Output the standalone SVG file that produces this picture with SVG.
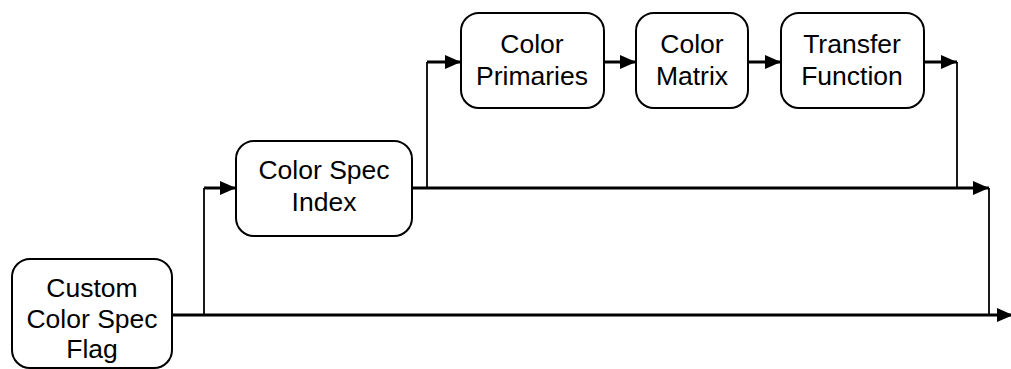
<svg xmlns="http://www.w3.org/2000/svg" width="1011" height="369" viewBox="0 0 1011 369">
<style>
.box{fill:#fff;stroke:#000;stroke-width:2}
.lbl{font-family:"Liberation Sans",Arial,sans-serif;font-size:26.5px;fill:#000;text-anchor:middle}
.thick{fill:none;stroke:#000;stroke-width:3}
.thin{fill:none;stroke:#000;stroke-width:1.8}
</style>
<defs>
<marker id="ah" markerWidth="17" markerHeight="15" refX="16" refY="7.5" orient="auto" markerUnits="userSpaceOnUse" overflow="visible">
<path d="M0,0.5 L16,7.5 L0,14.5 Z" fill="#000"/>
</marker>
</defs>
<rect width="1011" height="369" fill="#fff"/>
<g id="connectors">
<path class="thick" d="M172,315 H1013" marker-end="url(#ah)"/>
<path class="thin" d="M204,315 V188"/>
<path class="thick" d="M204,188 H236" marker-end="url(#ah)"/>
<path class="thick" d="M412,188 H989" marker-end="url(#ah)"/>
<path class="thin" d="M989,188 V315"/>
<path class="thin" d="M427,188 V62"/>
<path class="thick" d="M427,62 H461" marker-end="url(#ah)"/>
<path class="thick" d="M604,62 H636" marker-end="url(#ah)"/>
<path class="thick" d="M748,62 H781" marker-end="url(#ah)"/>
<path class="thick" d="M924,62 H957" marker-end="url(#ah)"/>
<path class="thin" d="M957,62 V188"/>
</g>
<g id="custom">
<rect class="box" x="12" y="259" width="160" height="109" rx="18"/>
<text class="lbl" x="92" y="297">Custom</text>
<text class="lbl" x="92" y="328">Color Spec</text>
<text class="lbl" x="92" y="358">Flag</text>
</g>
<g id="index">
<rect class="box" x="236" y="141" width="176" height="95" rx="18"/>
<text class="lbl" x="324" y="179">Color Spec</text>
<text class="lbl" x="324" y="211">Index</text>
</g>
<g id="primaries">
<rect class="box" x="461" y="13" width="143" height="95" rx="18"/>
<text class="lbl" x="532" y="53">Color</text>
<text class="lbl" x="532" y="85">Primaries</text>
</g>
<g id="matrix">
<rect class="box" x="636" y="13" width="112" height="95" rx="18"/>
<text class="lbl" x="692" y="53">Color</text>
<text class="lbl" x="692" y="85">Matrix</text>
</g>
<g id="transfer">
<rect class="box" x="781" y="13" width="143" height="95" rx="18"/>
<text class="lbl" x="852" y="53">Transfer</text>
<text class="lbl" x="852" y="85">Function</text>
</g>
</svg>
